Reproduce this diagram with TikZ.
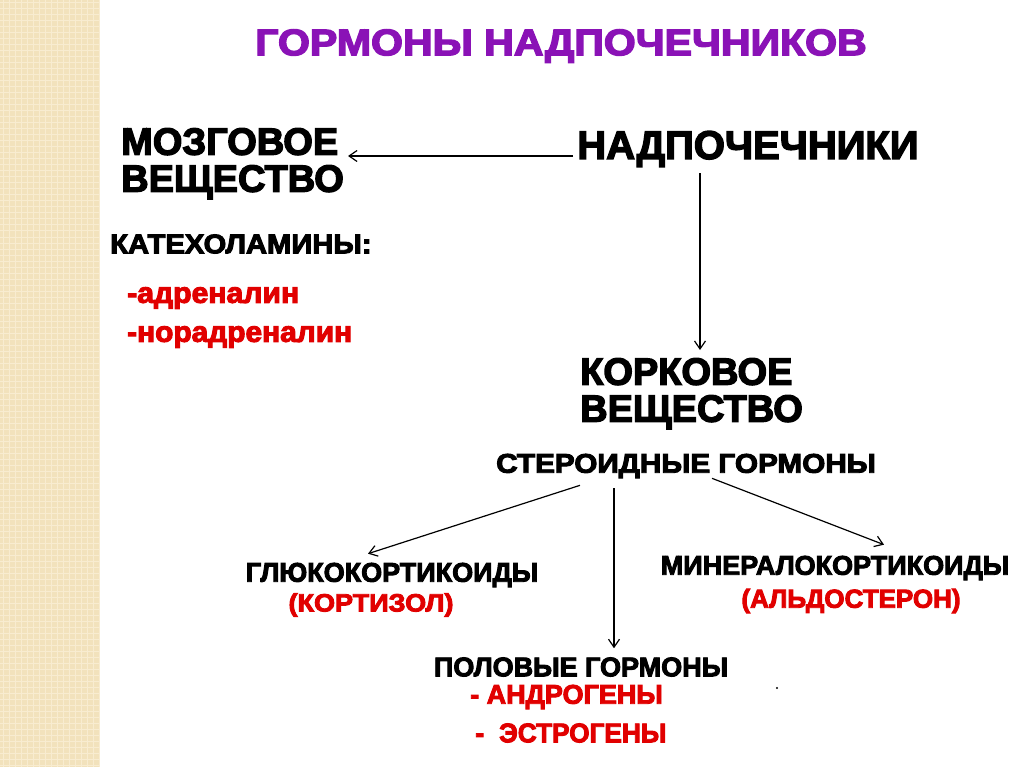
\documentclass[tikz,border=0pt]{standalone}
\usepackage{fontspec}
\setmainfont{Liberation Sans}
\newfontfamily\heavy{Liberation Sans Bold}[FakeBold=3.5]
\usetikzlibrary{arrows.meta}
\definecolor{ttl}{RGB}{138,18,182}
\definecolor{rd}{RGB}{225,0,0}
\definecolor{beige}{RGB}{242,226,188}
\definecolor{beigel}{RGB}{248,236,208}
\tikzset{
  lbl/.style={inner sep=0pt, font=\heavy, text=black},
  big/.style={lbl, font=\heavy\fontsize{38}{37}\selectfont, align=left},
  mid/.style={lbl, font=\heavy\fontsize{27}{30}\selectfont},
  red/.style={lbl, font=\heavy\fontsize{27}{30}\selectfont, text=rd},
  arr/.style={draw=black, line width=1.2pt, -{Straight Barb[length=8pt,width=11pt,line width=1.2pt]}}
}
\begin{document}
\begin{tikzpicture}[x=1pt,y=-1pt]
\useasboundingbox (0,0) rectangle (1024,767);
\fill[white] (0,0) rectangle (1024,767);
% left decorative strip
\fill[beige] (0,0) rectangle (100,767);
\foreach \i in {3,9,...,99} {\draw[beigel, line width=1pt] (\i,0) -- (\i,767);}
\foreach \j in {3,9,...,765} {\draw[beigel, line width=1pt] (0,\j) -- (100,\j);}

% title
\node[lbl, text=ttl, font=\heavy\fontsize{37}{40}\selectfont] (title) at (561,46) {\scalebox{1.11}[1]{ГОРМОНЫ НАДПОЧЕЧНИКОВ}};

% main nodes
\node[big, anchor=north west] (mozg) at (121,128) {МОЗГОВОЕ\\ВЕЩЕСТВО};
\node[big, font=\heavy\fontsize{40}{40}\selectfont] (nadp) at (748,149) {НАДПОЧЕЧНИКИ};
\node[big, anchor=north west] (kork) at (580,358) {КОРКОВОЕ\\ВЕЩЕСТВО};

\node[mid, anchor=west] (kat) at (110,244) {\scalebox{1.08}[1]{КАТЕХОЛАМИНЫ:}};
\node[red, anchor=west, font=\heavy\fontsize{29}{30}\selectfont] (adr) at (127,298) {\scalebox{1.04}[1]{-адреналин}};
\node[red, anchor=west, font=\heavy\fontsize{29}{30}\selectfont] (nadr) at (127,337) {\scalebox{1.03}[1]{-норадреналин}};

\node[mid] (ster) at (686,466) {\scalebox{1.10}[1]{СТЕРОИДНЫЕ ГОРМОНЫ}};
\node[mid] (gluc) at (392,575) {ГЛЮКОКОРТИКОИДЫ};
\node[red, font=\heavy\fontsize{25}{30}\selectfont] (kort) at (371,605) {\scalebox{1.08}[1]{(КОРТИЗОЛ)}};
\node[mid] (miner) at (835,568) {МИНЕРАЛОКОРТИКОИДЫ};
\node[red, font=\heavy\fontsize{26}{30}\selectfont] (ald) at (851,601) {(АЛЬДОСТЕРОН)};
\node[mid] (pol) at (581,667) {ПОЛОВЫЕ ГОРМОНЫ};
\node[red, anchor=west] (andr) at (470,697) {- АНДРОГЕНЫ};
\node[red, anchor=west] (estr) at (475,733) {-\ \ \scalebox{0.97}[1]{ЭСТРОГЕНЫ}};
\fill[black] (777,688) circle (1.2);

% connectors
\coordinate (v1) at (700,0);
\draw[arr] ([yshift=-7pt,xshift=-4pt]nadp.west) -- ([yshift=-7pt,xshift=4pt]nadp.west -| mozg.east);
\draw[arr] ([yshift=-6pt]nadp.south -| v1) -- ([yshift=8pt]kork.north -| v1);
\draw[arr] ([xshift=-106pt,yshift=-7pt]ster.south) -- ([xshift=-24pt,yshift=9pt]gluc.north);
\draw[arr] ([xshift=-72pt,yshift=-10pt]ster.south) -- ([xshift=33pt,yshift=9pt]pol.north);
\draw[arr] ([xshift=26pt,yshift=0pt]ster.south) -- ([xshift=49pt,yshift=11pt]miner.north);
\end{tikzpicture}
\end{document}
